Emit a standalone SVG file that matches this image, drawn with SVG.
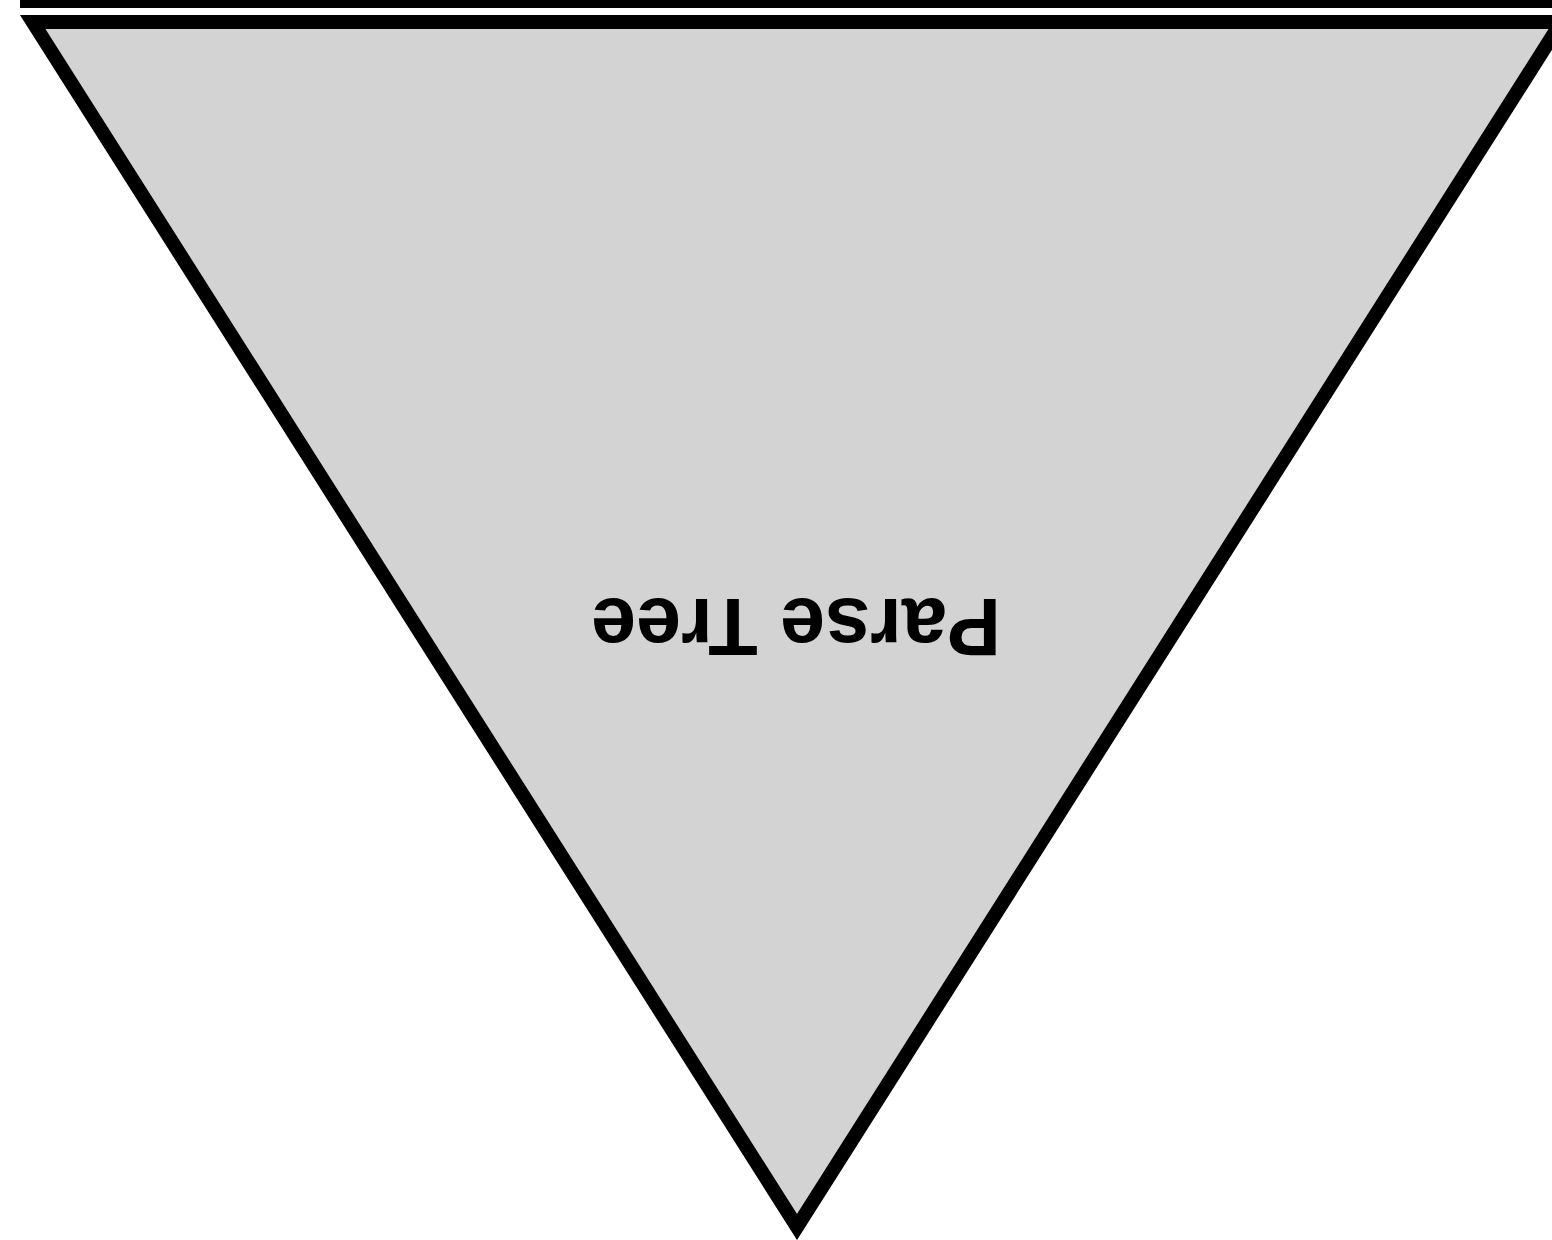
<svg xmlns="http://www.w3.org/2000/svg" width="1552" height="1240" viewBox="0 0 1552 1240">
  <style>
    .tri { fill: #d3d3d3; stroke: #000; stroke-width: 14; stroke-linejoin: miter; stroke-miterlimit: 10; }
    .lbl { font-family: "Liberation Sans", Arial, sans-serif; font-size: 81px; font-weight: bold; fill: #000; text-anchor: middle; }
  </style>
  <rect width="1552" height="1240" fill="#fff"/>
  <g id="baseline">
    <rect x="20" y="0" width="1540" height="8" fill="#000"/>
  </g>
  <g id="parse-tree">
    <polygon class="tri" points="32.7,22 1561.3,22 797,1227"/>
    <text class="lbl" x="796" y="657" transform="rotate(180 796 628)">Parse Tree</text>
  </g>
  <g id="connectors"></g>
</svg>
